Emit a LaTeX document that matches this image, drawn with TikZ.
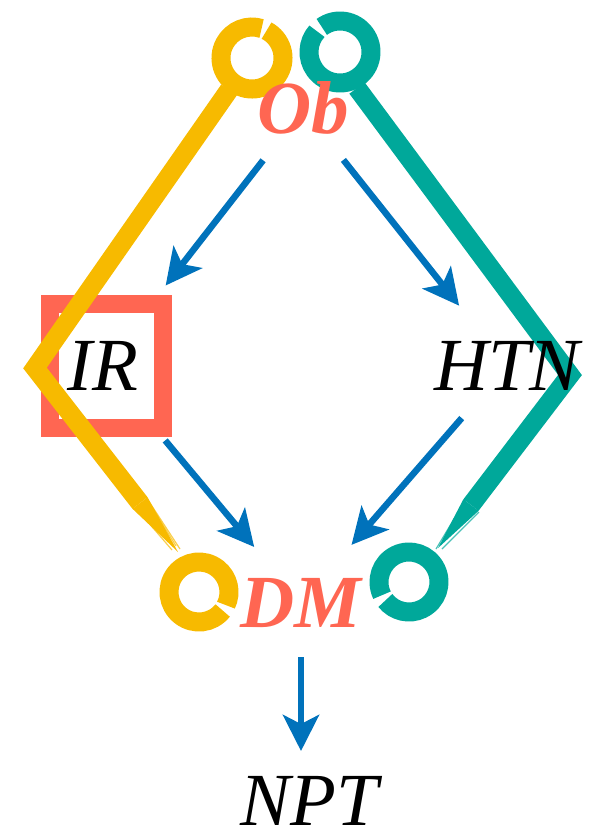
\documentclass[tikz,border=0pt]{standalone}
\usepackage{fontspec}
\setmainfont{Liberation Serif}
\usetikzlibrary{arrows.meta}

\definecolor{coral}{RGB}{255,102,82}
\definecolor{brushyellow}{RGB}{247,186,0}
\definecolor{brushteal}{RGB}{0,168,154}
\definecolor{flowblue}{RGB}{0,114,187}

\tikzset{
  lbl/.style={inner sep=0pt, text height=48pt, text depth=0pt,
    font=\fontsize{75}{80}\selectfont\itshape},
  keylbl/.style={lbl, text=coral, font=\fontsize{75}{80}\selectfont\bfseries\itshape},
  flow/.style={draw=flowblue, line width=6.5pt,
    -{Stealth[length=36pt, width=36pt, inset=9pt]}},
  brush/.style={line width=19pt, line join=miter},
  ring/.style={line width=19pt},
  hair/.style={line width=1.2pt, opacity=0.7},
}

\begin{document}
\begin{tikzpicture}[x=1pt, y=-1pt]
\useasboundingbox (0,0) rectangle (596,835);

% square around IR
\draw[coral, line width=18pt, line cap=round] (50,304) rectangle (163,428);

% yellow brush path with tapering tail
\draw[brushyellow, brush] (229,90) -- (35,368) -- (140,503);
\fill[brushyellow] (147.5,497.2) -- (178,552) -- (132.5,508.8) -- cycle;
\draw[brushyellow, hair] (145,496) -- (176,546);
\draw[brushyellow, hair] (135,507) -- (172,550);
\draw[brushyellow, hair] (148,500) -- (180,549);

% teal brush path with tapering tail
\draw[brushteal, brush] (357,88) -- (570,375) -- (471,505);
\fill[brushteal] (478.6,510.8) -- (438,548) -- (463.4,499.2) -- cycle;
\draw[brushteal, hair] (476,506) -- (440,545);
\draw[brushteal, hair] (466,499) -- (436,549);
\draw[brushteal, hair] (479,512) -- (442,549);

% brush rings
\draw[brushyellow, ring] (252,58) ++(-62:31) arc[start angle=-62, end angle=288, radius=31];
\draw[brushteal, ring] (340,52) ++(-126:31) arc[start angle=-126, end angle=222, radius=31];
\draw[brushyellow, ring] (199,592) ++(38:30) arc[start angle=38, end angle=386, radius=30];
\draw[brushteal, ring] (409,582) ++(154:30) arc[start angle=154, end angle=502, radius=30];

% labels
\node[keylbl] (ob) at (303,109) {Ob};
\node[lbl] (ir) at (103,366) {IR};
\node[lbl] (htn) at (507,366) {HTN};
\node[keylbl] (dm) at (301,603) {DM};
\node[lbl] (npt) at (309,801) {NPT};

% flow arrows
\draw[flow, shorten <=65pt, shorten >=102pt] (ob.center) -- (ir.center);
\draw[flow, shorten <=65pt, shorten >=77pt] (ob.center) -- (htn.center);
\draw[flow, shorten <=97pt, shorten >=73pt] (ir.center) -- (dm.center);
\draw[flow, shorten <=69pt, shorten >=77pt] (htn.center) -- (dm.center);
\draw[flow, shorten <=54pt, shorten >=50pt] (dm.center) -- (dm.center |- npt.center);
\end{tikzpicture}
\end{document}
